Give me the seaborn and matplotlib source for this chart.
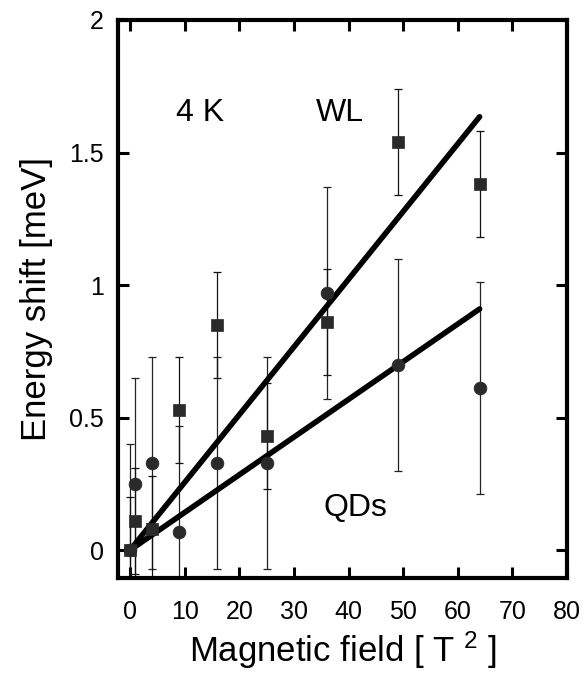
import numpy as np
import pandas as pd
import matplotlib
matplotlib.use("Agg")
import matplotlib.pyplot as plt
import seaborn as sns

# ---- data ----
field_sq = [0, 1, 4, 9, 16, 25, 36, 49, 64]           # B^2 [T^2]
wl_shift = [0.0, 0.11, 0.08, 0.53, 0.85, 0.43, 0.86, 1.54, 1.38]
wl_err = [0.2, 0.2, 0.2, 0.2, 0.2, 0.2, 0.2, 0.2, 0.2]
qd_shift = [0.0, 0.25, 0.33, 0.07, 0.33, 0.33, 0.97, 0.70, 0.61]
qd_err = [0.4, 0.4, 0.4, 0.4, 0.4, 0.4, 0.4, 0.4, 0.4]
fit_x = [0, 64]
wl_fit = [0.0, 1.635]
qd_fit = [0.0, 0.91]
x_ticks = [0, 10, 20, 30, 40, 50, 60, 70, 80]
y_ticks = [0, 0.5, 1, 1.5, 2]
y_ticklabels = ["0", "0.5", "1", "1.5", "2"]

sns.set_style("ticks")
plt.rcParams["font.family"] = ["Liberation Sans", "DejaVu Sans"]
plt.rcParams["mathtext.fontset"] = "custom"
plt.rcParams["mathtext.rm"] = "Liberation Sans"
plt.rcParams["mathtext.it"] = "Liberation Sans"
plt.rcParams["mathtext.default"] = "rm"
plt.rcParams["text.color"] = "black"
plt.rcParams["axes.labelcolor"] = "black"
plt.rcParams["xtick.labelcolor"] = "black"
plt.rcParams["ytick.labelcolor"] = "black"

fig = plt.figure(figsize=(5.85, 6.79), dpi=100)
ax = fig.add_axes([118 / 585, 1 - 578 / 679, (567 - 118) / 585, (578 - 20) / 679])

df_wl = pd.DataFrame({"x": field_sq, "y": wl_shift})
df_qd = pd.DataFrame({"x": field_sq, "y": qd_shift})
df_fit = pd.DataFrame({"x": fit_x + fit_x,
                       "y": wl_fit + qd_fit,
                       "s": ["WL"] * 2 + ["QD"] * 2})

# error bars
ax.errorbar(field_sq, qd_shift, yerr=qd_err, fmt="none", ecolor="#222222",
            elinewidth=0.9, capsize=3, capthick=0.9, linestyle=(0, (2, 1)), zorder=2)
ax.errorbar(field_sq, wl_shift, yerr=wl_err, fmt="none", ecolor="#111111",
            elinewidth=0.9, capsize=3, capthick=0.9, zorder=2)

# fit lines
sns.lineplot(data=df_fit, x="x", y="y", units="s", estimator=None,
             color="black", linewidth=4.0, ax=ax, zorder=3, legend=False)

# markers
sns.scatterplot(data=df_wl, x="x", y="y", marker="s", s=85, color="#2a2a2a",
                edgecolor="#2a2a2a", linewidth=0.5, ax=ax, zorder=4, legend=False)
sns.scatterplot(data=df_qd, x="x", y="y", marker="o", s=85, color="#2a2a2a",
                edgecolor="#2a2a2a", linewidth=0.5, ax=ax, zorder=4, legend=False)

ax.set_xlim(-2.2, 80)
ax.set_ylim(-0.105, 2.0)
ax.set_xticks(x_ticks)
ax.set_yticks(y_ticks)
ax.set_yticklabels(y_ticklabels)

for sp in ax.spines.values():
    sp.set_visible(True)
    sp.set_linewidth(3)
    sp.set_color("black")

ax.tick_params(axis="both", which="major", direction="in", length=8, width=2.2,
               labelsize=18, color="black", top=True, right=True)
ax.tick_params(axis="x", labeltop=False, pad=16)
ax.tick_params(axis="y", labelright=False, pad=10)

ax.set_xlabel("Magnetic field [ T $^{2}$ ]", fontsize=25, labelpad=4)
ax.set_ylabel("Energy shift [meV]", fontsize=25, labelpad=12)

ax.text(12.8, 1.65, "4 K", fontsize=23, ha="center", va="center")
ax.text(38.5, 1.65, "WL", fontsize=23, ha="center", va="center")
ax.text(41.2, 0.16, "QDs", fontsize=23, ha="center", va="center")

fig.savefig("out.png", dpi=100)
